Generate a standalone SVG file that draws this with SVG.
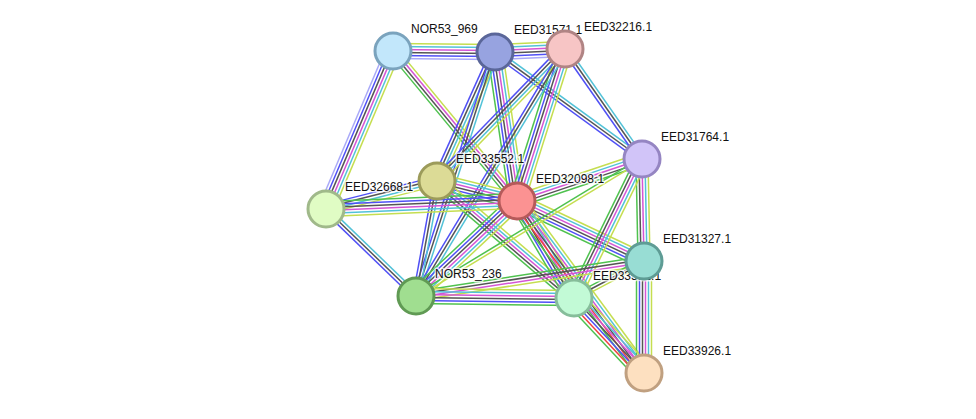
<svg xmlns="http://www.w3.org/2000/svg" width="976" height="419" viewBox="0 0 976 419">
<style>
line{stroke-width:1.5;fill:none}
.h{stroke:#a9a9f8}.g{stroke:#4fc24f}.r{stroke:#f04040}.b{stroke:#5050f5}.k{stroke:#555}.m{stroke:#d555d5}.c{stroke:#52c2d8}.y{stroke:#c5de50}
circle{stroke-width:3}
text{font-family:"Liberation Sans",Arial,sans-serif;font-size:12px;fill:#111;stroke:#fff;stroke-width:3;stroke-opacity:0.75;paint-order:stroke;stroke-linejoin:round}
</style>
<rect width="976" height="419" fill="#fff"/>
<g id="connectors">
<g transform="translate(393,51) rotate(0.56)"><line class="h" x2="102" y1="7.5" y2="7.5"/><line class="b" x2="102" y1="4.5" y2="4.5"/><line class="k" x2="102" y1="1.5" y2="1.5"/><line class="m" x2="102" y1="-1.5" y2="-1.5"/><line class="c" x2="102" y1="-4.5" y2="-4.5"/><line class="y" x2="102" y1="-7.5" y2="-7.5"/></g>
<g transform="translate(495,52) rotate(-2.45)"><line class="h" x2="70" y1="7.5" y2="7.5"/><line class="b" x2="70" y1="4.5" y2="4.5"/><line class="k" x2="70" y1="1.5" y2="1.5"/><line class="m" x2="70" y1="-1.5" y2="-1.5"/><line class="c" x2="70" y1="-4.5" y2="-4.5"/><line class="y" x2="70" y1="-7.5" y2="-7.5"/></g>
<g transform="translate(393,51) rotate(112.98)"><line class="h" x2="171.6" y1="7.5" y2="7.5"/><line class="b" x2="171.6" y1="4.5" y2="4.5"/><line class="k" x2="171.6" y1="1.5" y2="1.5"/><line class="m" x2="171.6" y1="-1.5" y2="-1.5"/><line class="c" x2="171.6" y1="-4.5" y2="-4.5"/><line class="y" x2="171.6" y1="-7.5" y2="-7.5"/></g>
<g transform="translate(393,51) rotate(50.43)"><line class="g" x2="194.6" y1="4.5" y2="4.5"/><line class="k" x2="194.6" y1="1.5" y2="1.5"/><line class="m" x2="194.6" y1="-1.5" y2="-1.5"/><line class="y" x2="194.6" y1="-4.5" y2="-4.5"/></g>
<g transform="translate(495,52) rotate(114.21)"><line class="b" x2="141.4" y1="4.5" y2="4.5"/><line class="k" x2="141.4" y1="1.5" y2="1.5"/><line class="c" x2="141.4" y1="-1.5" y2="-1.5"/><line class="y" x2="141.4" y1="-4.5" y2="-4.5"/></g>
<g transform="translate(495,52) rotate(81.6)"><line class="g" x2="150.6" y1="7.5" y2="7.5"/><line class="b" x2="150.6" y1="4.5" y2="4.5"/><line class="k" x2="150.6" y1="1.5" y2="1.5"/><line class="m" x2="150.6" y1="-1.5" y2="-1.5"/><line class="c" x2="150.6" y1="-4.5" y2="-4.5"/><line class="y" x2="150.6" y1="-7.5" y2="-7.5"/></g>
<g transform="translate(495,52) rotate(107.94)"><line class="b" x2="256.5" y1="3" y2="3"/><line class="k" x2="256.5"/><line class="c" x2="256.5" y1="-3" y2="-3"/></g>
<g transform="translate(495,52) rotate(36.05)"><line class="b" x2="181.8" y1="3" y2="3"/><line class="k" x2="181.8"/><line class="c" x2="181.8" y1="-3" y2="-3"/></g>
<g transform="translate(565,49) rotate(55.01)"><line class="b" x2="134.3" y1="3" y2="3"/><line class="k" x2="134.3"/><line class="c" x2="134.3" y1="-3" y2="-3"/></g>
<g transform="translate(565,49) rotate(107.53)"><line class="g" x2="159.4" y1="7.5" y2="7.5"/><line class="b" x2="159.4" y1="4.5" y2="4.5"/><line class="k" x2="159.4" y1="1.5" y2="1.5"/><line class="m" x2="159.4" y1="-1.5" y2="-1.5"/><line class="c" x2="159.4" y1="-4.5" y2="-4.5"/><line class="y" x2="159.4" y1="-7.5" y2="-7.5"/></g>
<g transform="translate(565,49) rotate(134.12)"><line class="b" x2="183.9" y1="4.5" y2="4.5"/><line class="k" x2="183.9" y1="1.5" y2="1.5"/><line class="c" x2="183.9" y1="-1.5" y2="-1.5"/><line class="y" x2="183.9" y1="-4.5" y2="-4.5"/></g>
<g transform="translate(565,49) rotate(121.1)"><line class="b" x2="288.5" y1="3" y2="3"/><line class="k" x2="288.5"/><line class="c" x2="288.5" y1="-3" y2="-3"/></g>
<g transform="translate(437,181) rotate(14.04)"><line class="g" x2="82.5" y1="7.5" y2="7.5"/><line class="b" x2="82.5" y1="4.5" y2="4.5"/><line class="k" x2="82.5" y1="1.5" y2="1.5"/><line class="m" x2="82.5" y1="-1.5" y2="-1.5"/><line class="c" x2="82.5" y1="-4.5" y2="-4.5"/><line class="y" x2="82.5" y1="-7.5" y2="-7.5"/></g>
<g transform="translate(437,181) rotate(165.84)"><line class="b" x2="114.5" y1="4.5" y2="4.5"/><line class="k" x2="114.5" y1="1.5" y2="1.5"/><line class="c" x2="114.5" y1="-1.5" y2="-1.5"/><line class="y" x2="114.5" y1="-4.5" y2="-4.5"/></g>
<g transform="translate(437,181) rotate(100.35)"><line class="b" x2="116.9" y1="3" y2="3"/><line class="k" x2="116.9"/><line class="c" x2="116.9" y1="-3" y2="-3"/></g>
<g transform="translate(437,181) rotate(40.5)"><line class="g" x2="180.2" y1="6" y2="6"/><line class="k" x2="180.2" y1="3" y2="3"/><line class="m" x2="180.2"/><line class="c" x2="180.2" y1="-3" y2="-3"/><line class="y" x2="180.2" y1="-6" y2="-6"/></g>
<g transform="translate(517,201) rotate(-18.57)"><line class="g" x2="131.9" y1="6" y2="6"/><line class="k" x2="131.9" y1="3" y2="3"/><line class="m" x2="131.9"/><line class="c" x2="131.9" y1="-3" y2="-3"/><line class="y" x2="131.9" y1="-6" y2="-6"/></g>
<g transform="translate(517,201) rotate(25.29)"><line class="g" x2="140.5" y1="7.5" y2="7.5"/><line class="b" x2="140.5" y1="4.5" y2="4.5"/><line class="k" x2="140.5" y1="1.5" y2="1.5"/><line class="m" x2="140.5" y1="-1.5" y2="-1.5"/><line class="c" x2="140.5" y1="-4.5" y2="-4.5"/><line class="y" x2="140.5" y1="-7.5" y2="-7.5"/></g>
<g transform="translate(517,201) rotate(59.56)"><line class="g" x2="112.5" y1="7.5" y2="7.5"/><line class="b" x2="112.5" y1="4.5" y2="4.5"/><line class="k" x2="112.5" y1="1.5" y2="1.5"/><line class="m" x2="112.5" y1="-1.5" y2="-1.5"/><line class="c" x2="112.5" y1="-4.5" y2="-4.5"/><line class="y" x2="112.5" y1="-7.5" y2="-7.5"/></g>
<g transform="translate(517,201) rotate(53.56)"><line class="g" x2="213.8" y1="7.5" y2="7.5"/><line class="r" x2="213.8" y1="4.5" y2="4.5"/><line class="k" x2="213.8" y1="1.5" y2="1.5"/><line class="m" x2="213.8" y1="-1.5" y2="-1.5"/><line class="c" x2="213.8" y1="-4.5" y2="-4.5"/><line class="y" x2="213.8" y1="-7.5" y2="-7.5"/></g>
<g transform="translate(517,201) rotate(136.75)"><line class="g" x2="138.7" y1="7.5" y2="7.5"/><line class="b" x2="138.7" y1="4.5" y2="4.5"/><line class="k" x2="138.7" y1="1.5" y2="1.5"/><line class="m" x2="138.7" y1="-1.5" y2="-1.5"/><line class="c" x2="138.7" y1="-4.5" y2="-4.5"/><line class="y" x2="138.7" y1="-7.5" y2="-7.5"/></g>
<g transform="translate(517,201) rotate(177.6)"><line class="g" x2="191.2" y1="7.5" y2="7.5"/><line class="b" x2="191.2" y1="4.5" y2="4.5"/><line class="k" x2="191.2" y1="1.5" y2="1.5"/><line class="m" x2="191.2" y1="-1.5" y2="-1.5"/><line class="c" x2="191.2" y1="-4.5" y2="-4.5"/><line class="y" x2="191.2" y1="-7.5" y2="-7.5"/></g>
<g transform="translate(642,159) rotate(88.88)"><line class="g" x2="102" y1="6" y2="6"/><line class="k" x2="102" y1="3" y2="3"/><line class="m" x2="102"/><line class="c" x2="102" y1="-3" y2="-3"/><line class="y" x2="102" y1="-6" y2="-6"/></g>
<g transform="translate(642,159) rotate(116.07)"><line class="g" x2="154.7" y1="6" y2="6"/><line class="k" x2="154.7" y1="3" y2="3"/><line class="m" x2="154.7"/><line class="c" x2="154.7" y1="-3" y2="-3"/><line class="y" x2="154.7" y1="-6" y2="-6"/></g>
<g transform="translate(642,159) rotate(148.78)"><line class="g" x2="264.3" y1="1.5" y2="1.5"/><line class="y" x2="264.3" y1="-1.5" y2="-1.5"/></g>
<g transform="translate(644,261) rotate(90)"><line class="g" x2="112" y1="7.5" y2="7.5"/><line class="b" x2="112" y1="4.5" y2="4.5"/><line class="k" x2="112" y1="1.5" y2="1.5"/><line class="m" x2="112" y1="-1.5" y2="-1.5"/><line class="c" x2="112" y1="-4.5" y2="-4.5"/><line class="y" x2="112" y1="-7.5" y2="-7.5"/></g>
<g transform="translate(644,261) rotate(171.27)"><line class="g" x2="230.7" y1="4.5" y2="4.5"/><line class="k" x2="230.7" y1="1.5" y2="1.5"/><line class="m" x2="230.7" y1="-1.5" y2="-1.5"/><line class="y" x2="230.7" y1="-4.5" y2="-4.5"/></g>
<g transform="translate(644,261) rotate(152.14)"><line class="g" x2="79.2" y1="3" y2="3"/><line class="k" x2="79.2"/><line class="y" x2="79.2" y1="-3" y2="-3"/></g>
<g transform="translate(574,298) rotate(46.97)"><line class="g" x2="102.6" y1="9" y2="9"/><line class="r" x2="102.6" y1="6" y2="6"/><line class="b" x2="102.6" y1="3" y2="3"/><line class="k" x2="102.6"/><line class="m" x2="102.6" y1="-3" y2="-3"/><line class="c" x2="102.6" y1="-6" y2="-6"/><line class="y" x2="102.6" y1="-9" y2="-9"/></g>
<g transform="translate(416,296) rotate(0.73)"><line class="g" x2="158" y1="7.5" y2="7.5"/><line class="b" x2="158" y1="4.5" y2="4.5"/><line class="k" x2="158" y1="1.5" y2="1.5"/><line class="m" x2="158" y1="-1.5" y2="-1.5"/><line class="c" x2="158" y1="-4.5" y2="-4.5"/><line class="y" x2="158" y1="-7.5" y2="-7.5"/></g>
<g transform="translate(326,209) rotate(44.03)"><line class="b" x2="125.2" y1="3" y2="3"/><line class="k" x2="125.2"/><line class="c" x2="125.2" y1="-3" y2="-3"/></g>
</g>
<g id="NOR53_969"><text x="411" y="33">NOR53_969</text><circle cx="393" cy="51" r="18" fill="#c2e7fb" stroke="#7aa3bd"/></g>
<g id="EED31571.1"><text x="514" y="34">EED31571.1</text><circle cx="495" cy="52" r="18" fill="#97a3e0" stroke="#5a6699"/></g>
<g id="EED32216.1"><text x="584" y="31">EED32216.1</text><circle cx="565" cy="49" r="18" fill="#f7c5c5" stroke="#b08484"/></g>
<g id="EED31764.1"><text x="661" y="141">EED31764.1</text><circle cx="642" cy="159" r="18" fill="#d1c4f8" stroke="#9585c2"/></g>
<g id="EED33552.1"><text x="456" y="163">EED33552.1</text><circle cx="437" cy="181" r="18" fill="#dcdb96" stroke="#9c9b5a"/></g>
<g id="EED32098.1"><text x="536" y="183">EED32098.1</text><circle cx="517" cy="201" r="18" fill="#fb9292" stroke="#b55a5a"/></g>
<g id="EED32668.1"><text x="345" y="191">EED32668.1</text><circle cx="326" cy="209" r="18" fill="#e0fcc4" stroke="#a0b98a"/></g>
<g id="NOR53_236"><text x="435" y="278">NOR53_236</text><circle cx="416" cy="296" r="18" fill="#a0de90" stroke="#609a54"/></g>
<g id="EED33551.1"><text x="593" y="280">EED33551.1</text><circle cx="574" cy="298" r="18" fill="#c2fad6" stroke="#86bd9a"/></g>
<g id="EED31327.1"><text x="663" y="243">EED31327.1</text><circle cx="644" cy="261" r="18" fill="#98ddd4" stroke="#5e9c95"/></g>
<g id="EED33926.1"><text x="663" y="355">EED33926.1</text><circle cx="644" cy="373" r="18" fill="#fde0c0" stroke="#c0a080"/></g>
</svg>
